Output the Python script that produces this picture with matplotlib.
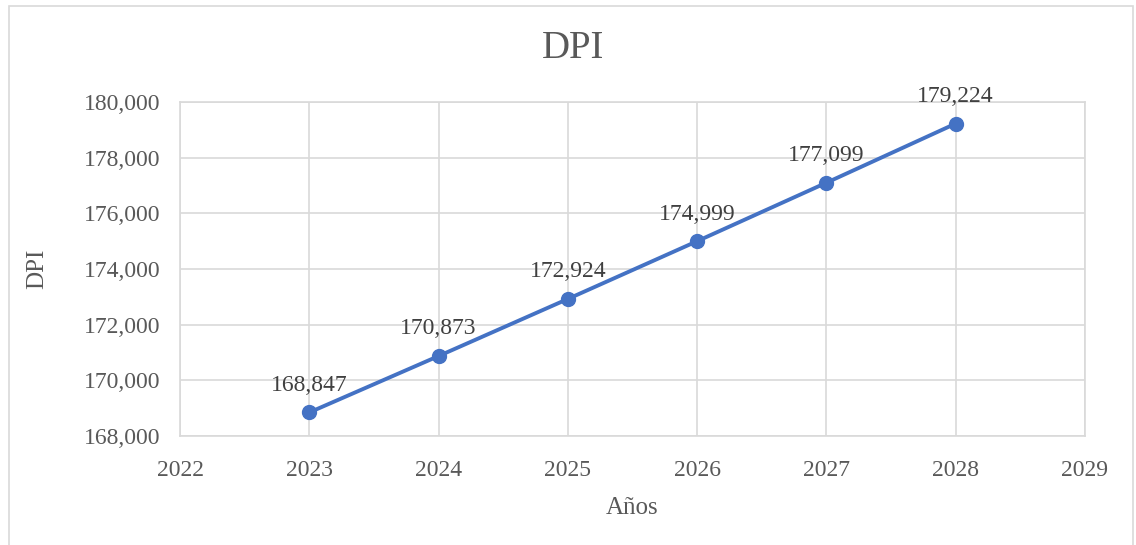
import matplotlib.pyplot as plt
from matplotlib.patches import Rectangle

years = [2023, 2024, 2025, 2026, 2027, 2028]
dpi = [168847, 170873, 172924, 174999, 177099, 179224]
labels = ["168,847", "170,873", "172,924", "174,999", "177,099", "179,224"]

plt.rcParams["font.family"] = ["Liberation Serif", "DejaVu Serif"]

fig = plt.figure(figsize=(11.36, 5.45), dpi=100)
ax = fig.add_axes([0.1585, 0.2, 0.7965, 0.6128])

# outer chart frame
fig.patches.append(Rectangle((9 / 1136, -0.01), 1 - 12 / 1136, 1 - 6 / 545 + 0.01,
                             transform=fig.transFigure, fill=False,
                             edgecolor="#d9d9d9", linewidth=1.2))

ax.plot(years, dpi, color="#4472c4", linewidth=2.8, marker="o",
        markersize=10, zorder=3)
for x, y, t in zip(years, dpi, labels):
    ax.annotate(t, (x, y), xytext=(0, 12), textcoords="offset points",
                ha="center", va="bottom", fontsize=17, color="#404040")

ax.set_xlim(2022, 2029)
ax.set_ylim(168000, 180000)
ax.set_xticks(range(2022, 2030))
ax.set_yticks(range(168000, 180001, 2000))
ax.set_yticklabels([f"{v:,}" for v in range(168000, 180001, 2000)])
ax.grid(True, color="#d9d9d9", linewidth=1.2)
ax.set_axisbelow(True)
for s in ax.spines.values():
    s.set_color("#d9d9d9")
    s.set_linewidth(1.2)
ax.tick_params(length=0, labelsize=17, labelcolor="#595959")
ax.tick_params(axis="x", pad=17)
ax.tick_params(axis="y", pad=14)

fig.text(573 / 1136, 1 - 48 / 545, "DPI", fontsize=28, color="#595959",
         ha="center", va="center")
ax.set_xlabel("Años", fontsize=18, color="#595959", labelpad=12)
ax.set_ylabel("DPI", fontsize=18, color="#595959", labelpad=26)

fig.savefig("out.png")
